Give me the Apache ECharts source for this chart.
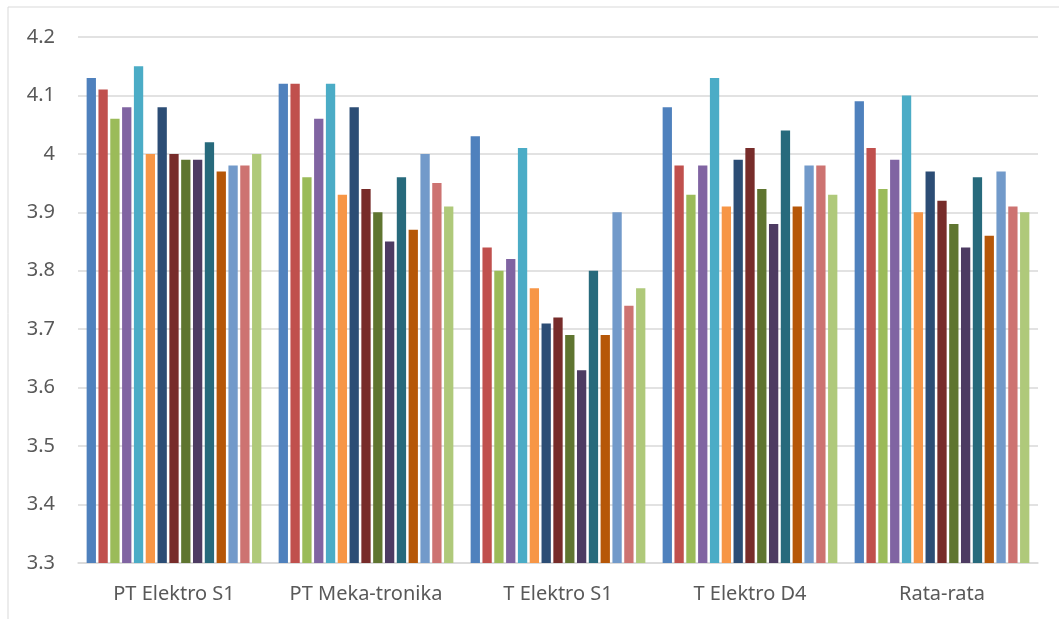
<!DOCTYPE html>
<html>
<head>
<meta charset="utf-8">
<script src="https://cdn.jsdelivr.net/npm/echarts@6/dist/echarts.min.js"></script>
<style>
html,body{margin:0;padding:0;background:#fff;}
#chart{width:1059px;height:619px;}
</style>
</head>
<body>
<div id="chart"></div>
<script>
const categories = ['PT Elektro S1', 'PT Meka-tronika', 'T Elektro S1', 'T Elektro D4', 'Rata-rata'];
const yTicks = { min: 3.3, max: 4.2, interval: 0.1 };

const s1  = [4.13, 4.12, 4.03, 4.08, 4.09];
const s2  = [4.11, 4.12, 3.84, 3.98, 4.01];
const s3  = [4.06, 3.96, 3.80, 3.93, 3.94];
const s4  = [4.08, 4.06, 3.82, 3.98, 3.99];
const s5  = [4.15, 4.12, 4.01, 4.13, 4.10];
const s6  = [4.00, 3.93, 3.77, 3.91, 3.90];
const s7  = [4.08, 4.08, 3.71, 3.99, 3.97];
const s8  = [4.00, 3.94, 3.72, 4.01, 3.92];
const s9  = [3.99, 3.90, 3.69, 3.94, 3.88];
const s10 = [3.99, 3.85, 3.63, 3.88, 3.84];
const s11 = [4.02, 3.96, 3.80, 4.04, 3.96];
const s12 = [3.97, 3.87, 3.69, 3.91, 3.86];
const s13 = [3.98, 4.00, 3.90, 3.98, 3.97];
const s14 = [3.98, 3.95, 3.74, 3.98, 3.91];
const s15 = [4.00, 3.91, 3.77, 3.93, 3.90];

const allSeries = [s1,s2,s3,s4,s5,s6,s7,s8,s9,s10,s11,s12,s13,s14,s15];
const colors = ['#4F81BD','#C0504D','#9BBB59','#8064A2','#4BACC6','#F79646','#2C4D75','#772C2A','#5F7530','#4D3B62','#276A7C','#B65708','#729ACA','#CD7371','#AFC97A'];

const chart = echarts.init(document.getElementById('chart'));
chart.setOption({
  animation: false,
  color: colors,
  textStyle: { fontFamily: 'Noto Sans' },
  graphic: [{
    type: 'rect',
    shape: { x: 8, y: 7, width: 1070, height: 640 },
    style: { fill: 'none', stroke: '#d9d9d9', lineWidth: 1 },
    silent: true
  }],
  grid: { left: 78, right: 21, top: 37, bottom: 56 },
  xAxis: {
    type: 'category',
    data: categories,
    axisLine: { show: true, lineStyle: { color: '#d9d9d9', width: 1.5 } },
    axisTick: { show: false },
    axisLabel: { color: '#595959', fontSize: 20, margin: 21, interval: 0, fontFamily: 'Noto Sans' }
  },
  yAxis: {
    type: 'value',
    min: yTicks.min,
    max: yTicks.max,
    interval: yTicks.interval,
    axisLine: { show: false },
    axisTick: { show: false },
    splitLine: { lineStyle: { color: '#d9d9d9', width: 1.5 } },
    axisLabel: {
      color: '#595959', fontSize: 20, margin: 23, fontFamily: 'Noto Sans',
      formatter: v => String(+v.toFixed(1))
    }
  },
  series: allSeries.map((d, i) => ({
    type: 'bar',
    name: 'S' + (i + 1),
    data: d,
    barGap: '27%',
    barCategoryGap: '9%',
    itemStyle: { color: colors[i] }
  }))
});
</script>
</body>
</html>
